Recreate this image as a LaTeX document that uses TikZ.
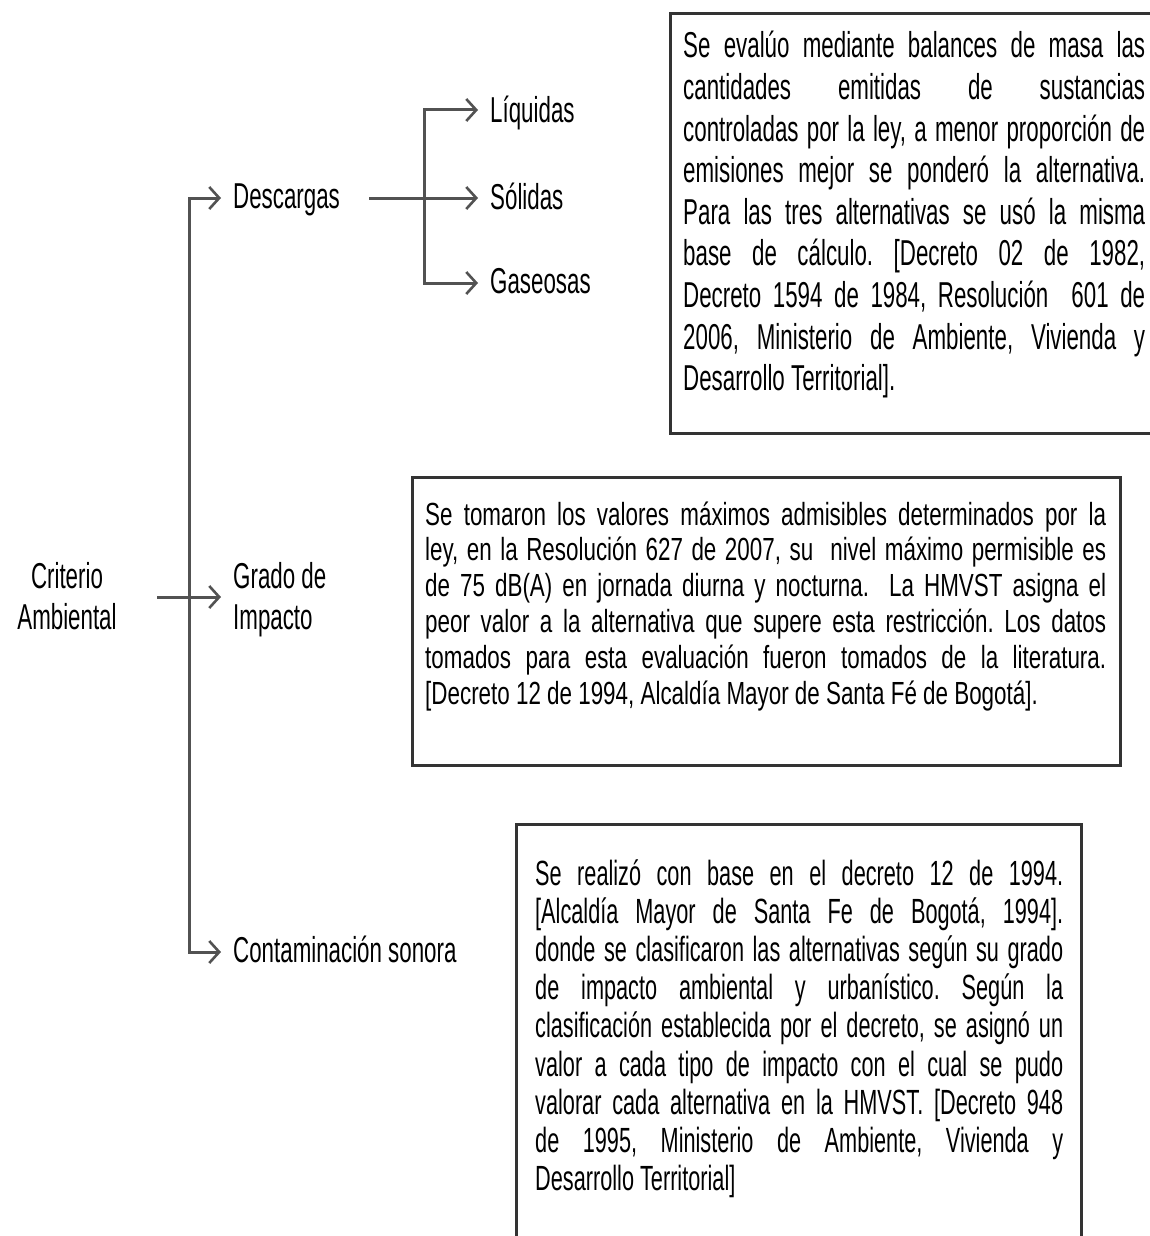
\documentclass[tikz,border=0pt]{standalone}
\usepackage{fontspec}
\setmainfont{Liberation Sans}
\newfontfamily\fa{Liberation Sans}[FakeStretch=0.62]
\newfontfamily\fb{Liberation Sans}[FakeStretch=0.70]
\newfontfamily\fc{Liberation Sans}[FakeStretch=0.62]
\usetikzlibrary{arrows.meta}
\frenchspacing
\newcommand\jl[1]{\makebox[\linewidth][s]{#1}\par}
\tikzset{
  barb/.tip={Straight Barb[length=10pt,width=22pt,line width=2.6pt]},
  conn/.style={line width=3pt, draw=black!68, -barb},
  conn2/.style={line width=3pt, draw=black!68, barb-barb},
  lbl/.style={inner xsep=12pt, inner ysep=0pt, anchor=base west, font=\fa\fontsize{36}{41}\selectfont},
  frame/.style={draw=black!80, line width=3pt, inner sep=0pt, anchor=north west},
  txt/.style={inner sep=0pt, anchor=base west},
}
\begin{document}
\begin{tikzpicture}[x=1pt,y=-1pt]
\useasboundingbox (0,0) rectangle (1149,1236);

% frames
\node[frame, minimum width=491pt, minimum height=420pt] (box1) at (669,12) {};
\node[frame, minimum width=708pt, minimum height=288pt] (box2) at (411,476) {};
\node[frame, minimum width=565pt, minimum height=440pt] (box3) at (515,823) {};

% box texts
\node[txt] (t1) at (683,58) {\fa\fontsize{36}{41.6}\selectfont\parbox[t]{462pt}{%
\jl{Se evalúo mediante balances de masa las}
\jl{cantidades emitidas de sustancias}
\jl{controladas por la ley, a menor proporción de}
\jl{emisiones mejor se ponderó la alternativa.}
\jl{Para las tres alternativas se usó la misma}
\jl{base de cálculo. [Decreto 02 de 1982,}
\jl{Decreto 1594 de 1984, Resolución\ \ 601 de}
\jl{2006, Ministerio de Ambiente, Vivienda y}
Desarrollo Territorial].}};

\node[txt] (t2) at (425,525) {\fb\fontsize{32}{35.8}\selectfont\parbox[t]{681pt}{%
\jl{Se tomaron los valores máximos admisibles determinados por la}
\jl{ley, en la Resolución 627 de 2007, su\ \ nivel máximo permisible es}
\jl{de 75 dB(A) en jornada diurna y nocturna.\ \ La HMVST asigna el}
\jl{peor valor a la alternativa que supere esta restricción. Los datos}
\jl{tomados para esta evaluación fueron tomados de la literatura.}
[Decreto 12 de 1994, Alcaldía Mayor de Santa Fé de Bogotá].}};

\node[txt] (t3) at (535,885) {\fc\fontsize{35}{38.2}\selectfont\parbox[t]{528pt}{%
\jl{Se realizó con base en el decreto 12 de 1994.}
\jl{[Alcaldía Mayor de Santa Fe de Bogotá, 1994].}
\jl{donde se clasificaron las alternativas según su grado}
\jl{de impacto ambiental y urbanístico. Según la}
\jl{clasificación establecida por el decreto, se asignó un}
\jl{valor a cada tipo de impacto con el cual se pudo}
\jl{valorar cada alternativa en la HMVST. [Decreto 948}
\jl{de 1995, Ministerio de Ambiente, Vivienda y}
Desarrollo Territorial]}};

% labels
\node[lbl, anchor=base] (crit) at (67,588) {\parbox[t]{150pt}{\centering Criterio\\Ambiental}};
\node[lbl] (grado) at (221,588) {\parbox[t]{150pt}{Grado de\\Impacto}};
\node[lbl] (desc) at (221,208) {Descargas};
\node[lbl] (cont) at (221,962) {Contaminación sonora};
\node[lbl] (liq) at (478,122) {Líquidas};
\node[lbl] (sol) at (478,209) {Sólidas};
\node[lbl] (gas) at (478,293) {Gaseosas};

% connectors
\coordinate (cS) at (157,597);
\coordinate (vT) at (189,198);
\coordinate (vB) at (189,952);
\coordinate (dS) at (369,198);
\coordinate (jT) at (424,110);
\coordinate (jB) at (424,283);

\draw[conn2] (vT -| desc.west) -- (vT) -- (vB) -- (vB -| cont.west);
\draw[conn] (cS) -- (cS -| grado.west);
\draw[conn2] (liq.west |- jT) -- (jT) -- (jB) -- (gas.west |- jB);
\draw[conn] (dS) -- (dS -| sol.west);
\end{tikzpicture}
\end{document}
